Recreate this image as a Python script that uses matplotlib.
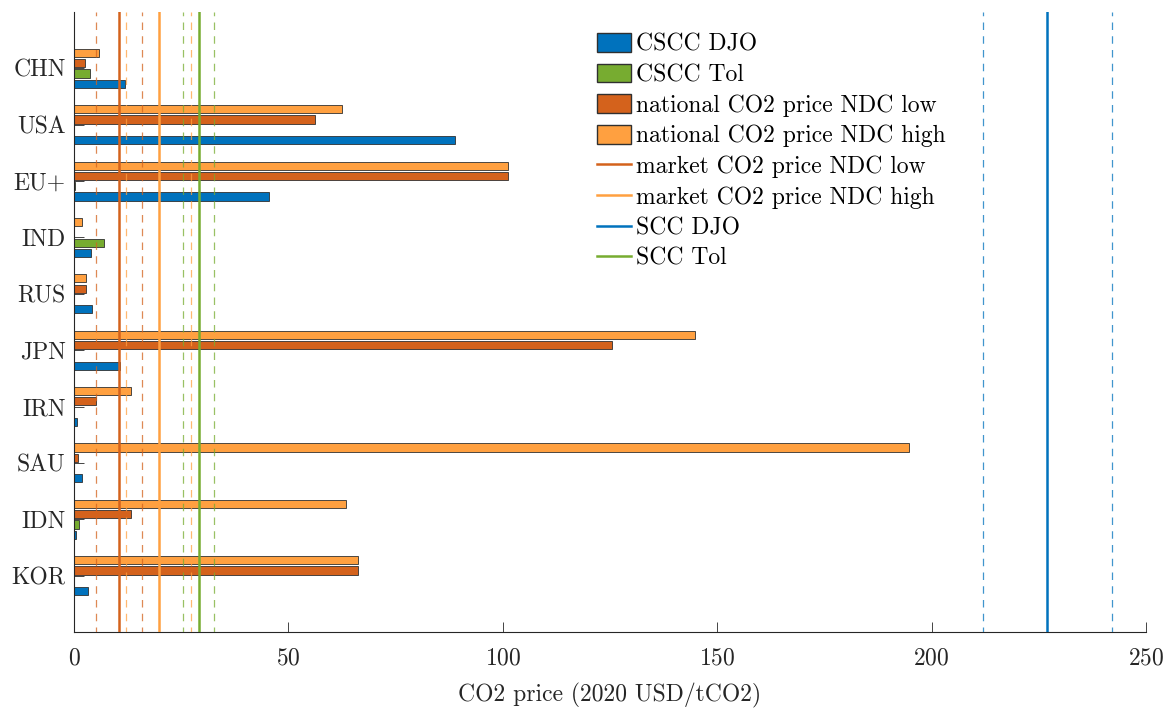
import numpy as np
import matplotlib
matplotlib.use('Agg')
import matplotlib.pyplot as plt
from matplotlib.patches import Patch
from matplotlib.lines import Line2D

plt.rcParams['font.family'] = ['cmr10', 'DejaVu Serif']
plt.rcParams['axes.formatter.use_mathtext'] = True

# Countries, top to bottom
countries = ['CHN', 'USA', 'EU+', 'IND', 'RUS', 'JPN', 'IRN', 'SAU', 'IDN', 'KOR']

# Country-level social cost of carbon and national NDC prices (2020 USD/tCO2)
cscc_djo = [12.0, 88.8, 45.5, 4.0, 4.2, 10.8, 0.8, 1.9, 0.5, 3.2]
cscc_tol = [3.7, 0.0, 0.3, 7.0, 0.0, 0.0, 0.0, 0.0, 1.2, 0.0]
ndc_low = [2.6, 56.2, 101.2, 0.0, 2.7, 125.5, 5.1, 0.9, 13.4, 66.2]
ndc_high = [5.8, 62.5, 101.2, 1.8, 2.7, 144.8, 13.2, 194.7, 63.5, 66.2]

# Global reference prices: central value with lower and upper bounds
market_low = [10.5, 5.1, 15.9]
market_high = [19.8, 12.2, 27.4]
scc_djo = [227.0, 212.1, 242.0]
scc_tol = [29.2, 25.4, 32.7]

c_blue = '#0072BD'
c_green = '#77AC30'
c_dark = '#D4621C'
c_light = '#FFA040'
fs = 17

fig = plt.figure(figsize=(11.69, 7.11), dpi=100)
ax = fig.add_axes([74 / 1169, 1 - 632 / 711, (1146 - 74) / 1169, (632 - 12) / 711])

pos = np.arange(1, len(countries) + 1)
step = 0.183
h = 0.145
series = [(ndc_high, c_light, -1.5), (ndc_low, c_dark, -0.5),
          (cscc_tol, c_green, 0.5), (cscc_djo, c_blue, 1.5)]
for vals, col, off in series:
    ax.barh(pos + off * step, vals, height=h, color=col,
            edgecolor='#303030', linewidth=0.6, zorder=2)

# Vertical reference lines with dashed bounds
for vals, col in [(market_low, c_dark), (market_high, c_light),
                  (scc_djo, c_blue), (scc_tol, c_green)]:
    ax.axvline(vals[0], color=col, lw=1.8, zorder=3)
    for v in vals[1:]:
        ax.axvline(v, color=col, lw=0.9, ls=(2, (6, 5)), alpha=0.75, zorder=3)

ax.set_xlim(0, 250)
ax.set_ylim(11, 0)
ax.set_yticks(pos)
ax.set_yticklabels(countries)
ax.set_xticks([0, 50, 100, 150, 200, 250])
ax.set_axisbelow(True)
for s in ['top', 'right']:
    ax.spines[s].set_visible(False)
for s in ['left', 'bottom']:
    ax.spines[s].set_color('#262626')
    ax.spines[s].set_linewidth(0.8)
ax.tick_params(axis='both', direction='in', length=7, width=0.6,
               colors='#262626', labelsize=fs)
ax.tick_params(axis='x', pad=11)
ax.tick_params(axis='y', pad=6)
ax.set_xlabel('CO2 price (2020 USD/tCO2)', fontsize=fs, color='#262626', labelpad=10)

handles = [
    Patch(facecolor=c_blue, edgecolor='#303030', label='CSCC DJO'),
    Patch(facecolor=c_green, edgecolor='#303030', label='CSCC Tol'),
    Patch(facecolor=c_dark, edgecolor='#303030', label='national CO2 price NDC low'),
    Patch(facecolor=c_light, edgecolor='#303030', label='national CO2 price NDC high'),
    Line2D([], [], color=c_dark, lw=1.8, label='market CO2 price NDC low'),
    Line2D([], [], color=c_light, lw=1.8, label='market CO2 price NDC high'),
    Line2D([], [], color=c_blue, lw=1.8, label='SCC DJO'),
    Line2D([], [], color=c_green, lw=1.8, label='SCC Tol'),
]
fig.legend(handles=handles, loc='upper left', bbox_to_anchor=(597 / 1169, 1 - 33 / 711),
           frameon=False, fontsize=fs, handlelength=1.45, handleheight=0.85,
           handletextpad=0.2, labelspacing=0.34, borderpad=0, borderaxespad=0)

fig.savefig('out.png', dpi=100)
